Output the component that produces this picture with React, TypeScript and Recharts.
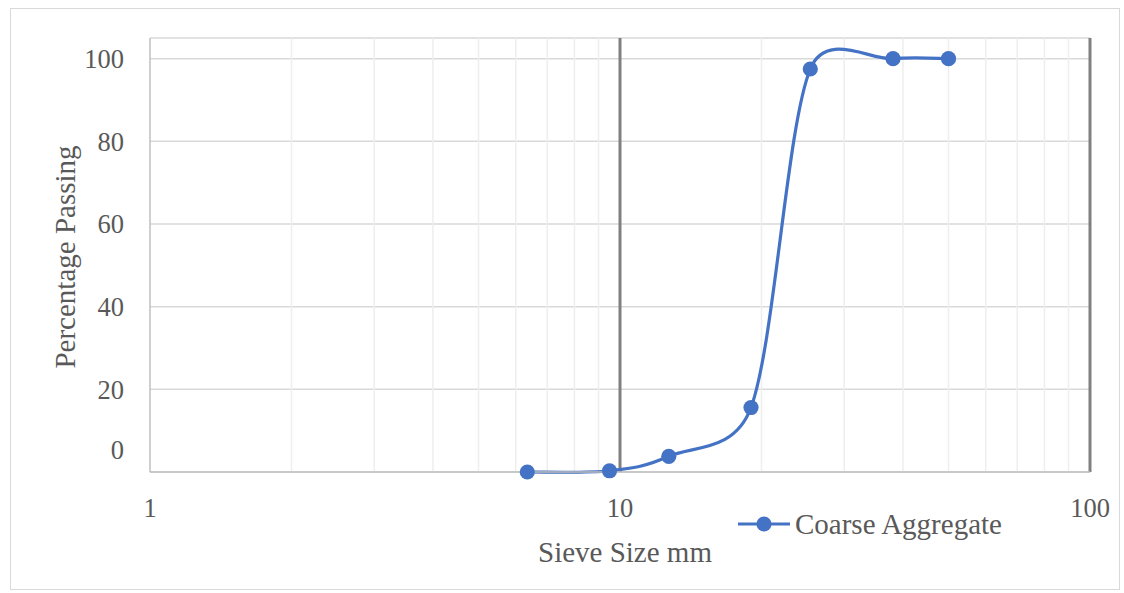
import React from "react";
import { LineChart, Line, XAxis, YAxis, CartesianGrid, ReferenceLine } from "recharts";

// sieve sizes (mm) and cumulative percentage passing
const sieveSizes = [6.35, 9.5, 12.7, 19, 25.4, 38.1, 50];
const percentPassing = [0, 0.3, 3.8, 15.6, 97.5, 100, 100];

const xTicks = [1, 10, 100];
const yTicks = [0, 20, 40, 60, 80, 100];
const minorGrid = [2, 3, 4, 5, 6, 7, 8, 9, 20, 30, 40, 50, 60, 70, 80, 90];
const majorGrid = [10, 100];

const data = sieveSizes.map((size, i) => ({ size, passing: percentPassing[i] }));

const FONT = "'Liberation Serif', 'Times New Roman', serif";
const TEXT = "#595959";
const BLUE = "#4472C4";

const dist = (a: number[], b: number[]) => Math.hypot(a[0] - b[0], a[1] - b[1]);

// spreadsheet-style smoothed line: bezier through every point, with the
// control arm capped at half of the segment length
function smoothCurve(context: any) {
  let pts: [number, number][] = [];
  return {
    areaStart() {},
    areaEnd() {},
    lineStart() {
      pts = [];
    },
    point(x: number, y: number) {
      pts.push([+x, +y]);
    },
    lineEnd() {
      if (!pts.length) return;
      context.moveTo(pts[0][0], pts[0][1]);
      for (let i = 0; i < pts.length - 1; i++) {
        const p0 = pts[i - 1] ?? pts[i];
        const p1 = pts[i];
        const p2 = pts[i + 1];
        const p3 = pts[i + 2] ?? pts[i + 1];
        const d12 = dist(p1, p2);
        const d02 = dist(p0, p2);
        const d13 = dist(p1, p3);
        const f1 = d02 / 6 < d12 / 2 ? 1 / 6 : d12 / (2 * d02);
        const f2 = d13 / 6 < d12 / 2 ? 1 / 6 : d12 / (2 * d13);
        context.bezierCurveTo(
          p1[0] + (p2[0] - p0[0]) * f1,
          p1[1] + (p2[1] - p0[1]) * f1,
          p2[0] - (p3[0] - p1[0]) * f2,
          p2[1] - (p3[1] - p1[1]) * f2,
          p2[0],
          p2[1]
        );
      }
    },
  };
}

const XTick = ({ x, y, payload }: any) => (
  <text x={x} y={y} dy="0.71em" textAnchor="middle" fill={TEXT} fontSize={26.5} fontFamily={FONT}>
    {payload.value}
  </text>
);

const YTick = ({ x, y, payload }: any) => (
  <text
    x={x}
    y={payload.value === 0 ? y - 22 : y}
    dy="0.35em"
    textAnchor="end"
    fill={TEXT}
    fontSize={26.5}
    fontFamily={FONT}
  >
    {payload.value}
  </text>
);

export default function App() {
  return (
    <div style={{ position: "fixed", left: 0, top: 0, width: 1124, height: 593, background: "#fff" }}>
      <div
        style={{
          position: "absolute",
          left: 10,
          top: 8,
          width: 1110,
          height: 582,
          border: "1px solid #d9d9d9",
          boxSizing: "border-box",
        }}
      />
      <LineChart
        width={1124}
        height={593}
        data={data}
        margin={{ top: 38, right: 34, left: 0, bottom: 0 }}
        style={{ position: "absolute", left: 0, top: 0 }}
      >
        <CartesianGrid stroke="#d9d9d9" strokeWidth={1.5} vertical={false} />
        {minorGrid.map((v) => (
          <ReferenceLine key={v} x={v} stroke="#eeeeee" strokeWidth={1.5} />
        ))}
        {majorGrid.map((v) => (
          <ReferenceLine key={v} x={v} stroke="#808080" strokeWidth={3} />
        ))}
        <XAxis
          dataKey="size"
          type="number"
          scale="log"
          domain={[1, 100]}
          ticks={xTicks}
          allowDataOverflow
          height={121}
          tickLine={false}
          tickSize={0}
          tickMargin={26}
          axisLine={{ stroke: "#bfbfbf", strokeWidth: 1.5 }}
          tick={<XTick />}
          label={({ viewBox }: any) => (
            <text
              x={viewBox.x + viewBox.width / 2 + 5}
              y={viewBox.y + 80}
              dy="0.35em"
              textAnchor="middle"
              fill={TEXT}
              fontSize={29}
              fontFamily={FONT}
            >
              Sieve Size mm
            </text>
          )}
        />
        <YAxis
          type="number"
          domain={[0, 105]}
          ticks={yTicks}
          width={150}
          tickLine={false}
          tickSize={0}
          tickMargin={26}
          axisLine={{ stroke: "#bfbfbf", strokeWidth: 1.5 }}
          tick={<YTick />}
          label={({ viewBox }: any) => {
            const cx = 65;
            const cy = viewBox.y + viewBox.height / 2 + 2;
            return (
              <text
                x={cx}
                y={cy}
                dy="0.35em"
                textAnchor="middle"
                transform={`rotate(-90 ${cx} ${cy})`}
                fill={TEXT}
                fontSize={29}
                fontFamily={FONT}
              >
                Percentage Passing
              </text>
            );
          }}
        />
        <Line
          dataKey="passing"
          name="Coarse Aggregate"
          type={smoothCurve as any}
          stroke={BLUE}
          strokeWidth={3.2}
          dot={{ r: 7.6, fill: BLUE, stroke: BLUE, strokeWidth: 0 }}
          isAnimationActive={false}
        />
      </LineChart>
      {/* series key */}
      <svg
        width={300}
        height={30}
        style={{ position: "absolute", left: 738, top: 509, overflow: "visible" }}
      >
        <line x1={0} y1={15} x2={52} y2={15} stroke={BLUE} strokeWidth={3.2} />
        <circle cx={26} cy={15} r={7.6} fill={BLUE} />
        <text x={57} y={15} dy="0.35em" fill={TEXT} fontSize={29} fontFamily={FONT}>
          Coarse Aggregate
        </text>
      </svg>
    </div>
  );
}
